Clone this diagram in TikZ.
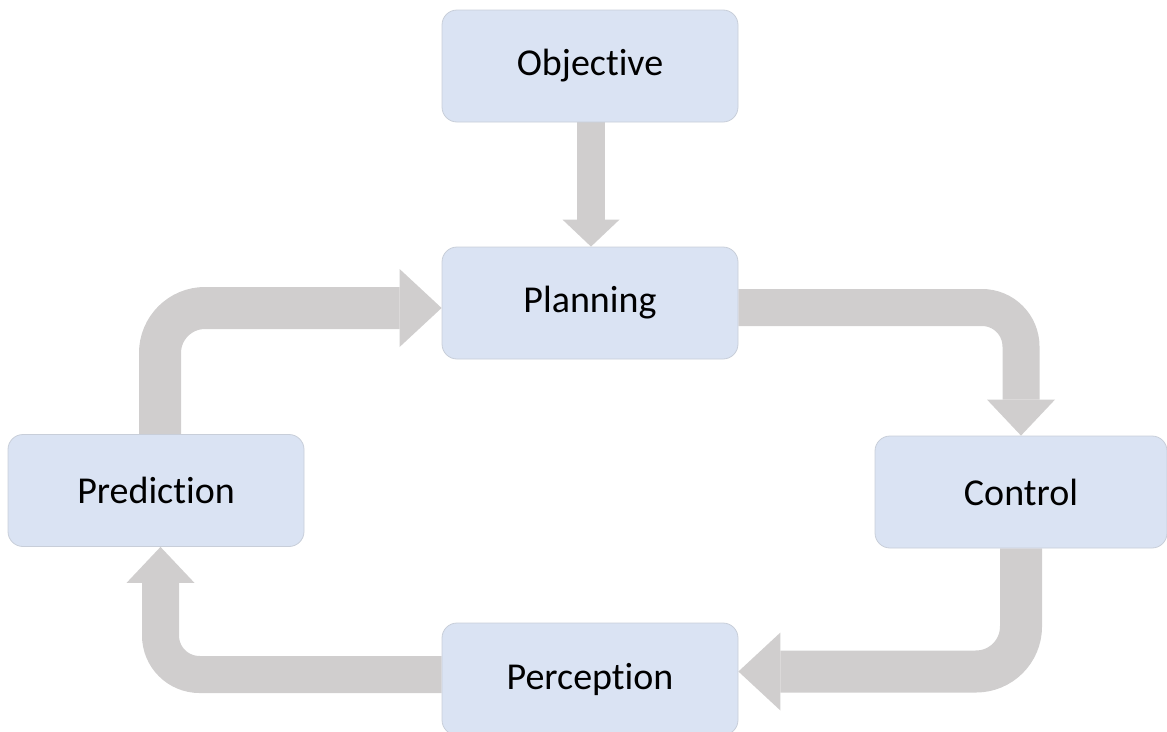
\documentclass[tikz,border=0pt]{standalone}
\usepackage{fontspec}
\setmainfont{Carlito}[Ligatures={NoCommon}]
\usetikzlibrary{arrows.meta,backgrounds}

\definecolor{boxfill}{HTML}{DAE3F3}
\definecolor{boxline}{HTML}{C8CED9}
\definecolor{flowgray}{HTML}{D0CECE}

\tikzset{
  stage/.style={draw=boxline, line width=0.8pt, fill=boxfill, rounded corners=15pt,
    minimum width=296pt, minimum height=112pt, inner sep=0pt,
    font=\fontsize{38}{45}\selectfont, text=black},
  feed/.style={draw=flowgray, line width=28pt,
    -{Triangle[length=27pt,width=57pt,line width=0pt]}},
  bendA/.style={draw=flowgray, line width=37pt, rounded corners=39pt,
    -{Triangle[length=36pt,width=68pt,line width=0pt]}},
  bendB/.style={draw=flowgray, line width=42pt, rounded corners=45pt,
    -{Triangle[length=42pt,width=78pt,line width=0pt]}}
}

\begin{document}
\begin{tikzpicture}[x=1pt, y=-1pt]
  \useasboundingbox (0,0) rectangle (1167,731);

  % stages of the loop
  \node[stage] (obj)  at (590,66)    {Objective};
  \node[stage] (plan) at (590,303)   {Planning};
  \node[stage, minimum width=292pt] (ctrl) at (1021,492) {Control};
  \node[stage] (pred) at (156,490.5) {Prediction};
  \node[stage] (perc) at (590,679)   {Perception};

  % block arrows between stages
  \begin{scope}[on background layer]
    \draw[feed] ([xshift=1pt]obj.south) -- ([xshift=1pt]plan.north);
    \draw[bendA] ([yshift=-4.5pt]plan.east) -| (ctrl.north);
    \draw[bendB] (ctrl.south) |- ([yshift=7.5pt]perc.east);
    \draw[bendA] ([yshift=4.5pt]perc.west) -| ([xshift=4.5pt]pred.south);
    \draw[bendB] ([xshift=4pt]pred.north) |- ([yshift=-5pt]plan.west);
  \end{scope}
\end{tikzpicture}
\end{document}
